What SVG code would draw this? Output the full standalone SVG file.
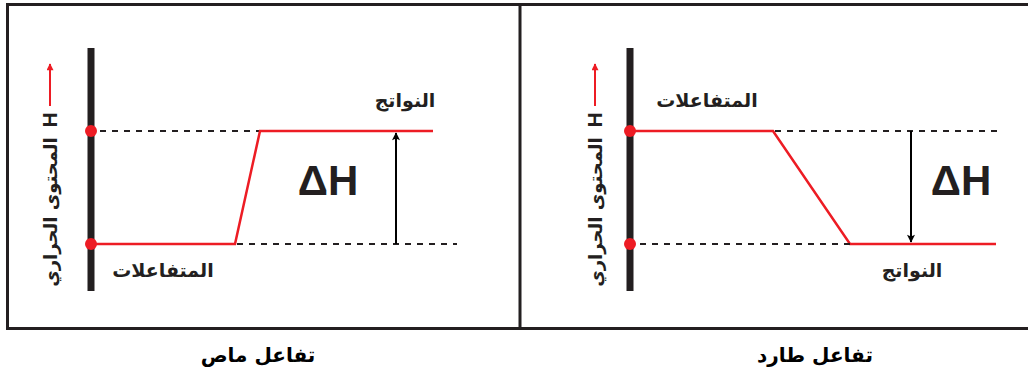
<svg xmlns="http://www.w3.org/2000/svg" width="1028" height="372" viewBox="0 0 1028 372">
<style>
.frame{fill:none;stroke:#231f20;stroke-width:3}
.axis{stroke:#231f20;stroke-width:7}
.dot{fill:#ed1c24}
.red{stroke:#ed1c24;stroke-width:2.5;fill:none}
.dash{stroke:#231f20;stroke-width:1.8;stroke-dasharray:6 6;fill:none}
.arr{stroke:#000;stroke-width:2;fill:none}
.lbl{font-family:"DejaVu Sans","Noto Sans",sans-serif;font-weight:bold;font-size:19px;fill:#231f20}
.ax{font-family:"DejaVu Sans","Noto Sans",sans-serif;font-weight:bold;font-size:18px;fill:#231f20}
.dh{font-family:"Liberation Sans",Arial,sans-serif;font-weight:bold;font-size:42px;fill:#231f20}
.ttl{font-family:"DejaVu Sans","Noto Sans",sans-serif;font-weight:bold;font-size:20px;fill:#000}
.hl{font-family:"Liberation Sans",Arial,sans-serif;font-weight:bold;font-size:21px;fill:#231f20}
</style>
<defs>
<marker id="ah" viewBox="0 0 10 10" refX="9" refY="5" markerWidth="9" markerHeight="8" orient="auto" markerUnits="userSpaceOnUse">
<path d="M0,0 L10,5 L0,10 L2,5 z" fill="#000"/>
</marker>
<marker id="ahr" viewBox="0 0 10 10" refX="9" refY="5" markerWidth="8" markerHeight="7" orient="auto" markerUnits="userSpaceOnUse">
<path d="M0,0 L10,5 L0,10 z" fill="#ed1c24"/>
</marker>
</defs>
<rect width="1028" height="372" fill="#fff"/>
<g id="frame">
<path class="frame" d="M1030,4.5 H7.5 V328.5 H1030"/>
<line class="frame" x1="520" y1="4" x2="520" y2="328"/>
</g>
<g id="left-axis">
<line class="axis" x1="91" y1="48" x2="91" y2="291"/>
<circle class="dot" cx="91" cy="131" r="6"/>
<circle class="dot" cx="91" cy="244" r="6"/>
<text class="hl" transform="translate(57,120) rotate(-90)" text-anchor="middle">H</text>
<line x1="50" y1="106" x2="50" y2="64" stroke="#ed1c24" stroke-width="2" marker-end="url(#ahr)"/>
<text class="ax" transform="translate(57,212) rotate(-90)" text-anchor="middle" direction="rtl">المحتوى الحراري</text>
</g>
<g id="right-axis">
<line class="axis" x1="630" y1="48" x2="630" y2="291"/>
<circle class="dot" cx="630" cy="131" r="6"/>
<circle class="dot" cx="630" cy="244" r="6"/>
<text class="hl" transform="translate(602,120) rotate(-90)" text-anchor="middle">H</text>
<line x1="595" y1="106" x2="595" y2="64" stroke="#ed1c24" stroke-width="2" marker-end="url(#ahr)"/>
<text class="ax" transform="translate(602,212) rotate(-90)" text-anchor="middle" direction="rtl">المحتوى الحراري</text>
</g>
<g id="connectors">
<line class="dash" x1="100" y1="131" x2="260" y2="131"/>
<polyline class="red" points="91,244 235,244 260,131 433,131"/>
<line class="dash" x1="237" y1="244" x2="457" y2="244"/>
<line class="arr" x1="396" y1="244" x2="396" y2="133" marker-end="url(#ah)"/>
<polyline class="red" points="630,131 773,131 850,244 996,244"/>
<line class="dash" x1="775" y1="131" x2="1000" y2="131"/>
<line class="dash" x1="640" y1="244" x2="850" y2="244"/>
<line class="arr" x1="911" y1="131" x2="911" y2="242" marker-end="url(#ah)"/>
</g>
<g id="left-labels">
<text class="dh" x="328" y="195" text-anchor="middle">ΔH</text>
<text class="lbl" x="405" y="107" text-anchor="middle" direction="rtl">النواتج</text>
<text class="lbl" x="163" y="277" text-anchor="middle" direction="rtl">المتفاعلات</text>
<text class="ttl" x="258" y="362" text-anchor="middle" direction="rtl">تفاعل ماص</text>
</g>
<g id="right-labels">
<text class="dh" x="961" y="195" text-anchor="middle">ΔH</text>
<text class="lbl" x="707" y="107" text-anchor="middle" direction="rtl">المتفاعلات</text>
<text class="lbl" x="912" y="277" text-anchor="middle" direction="rtl">النواتج</text>
<text class="ttl" x="815" y="362" text-anchor="middle" direction="rtl">تفاعل طارد</text>
</g>
</svg>
